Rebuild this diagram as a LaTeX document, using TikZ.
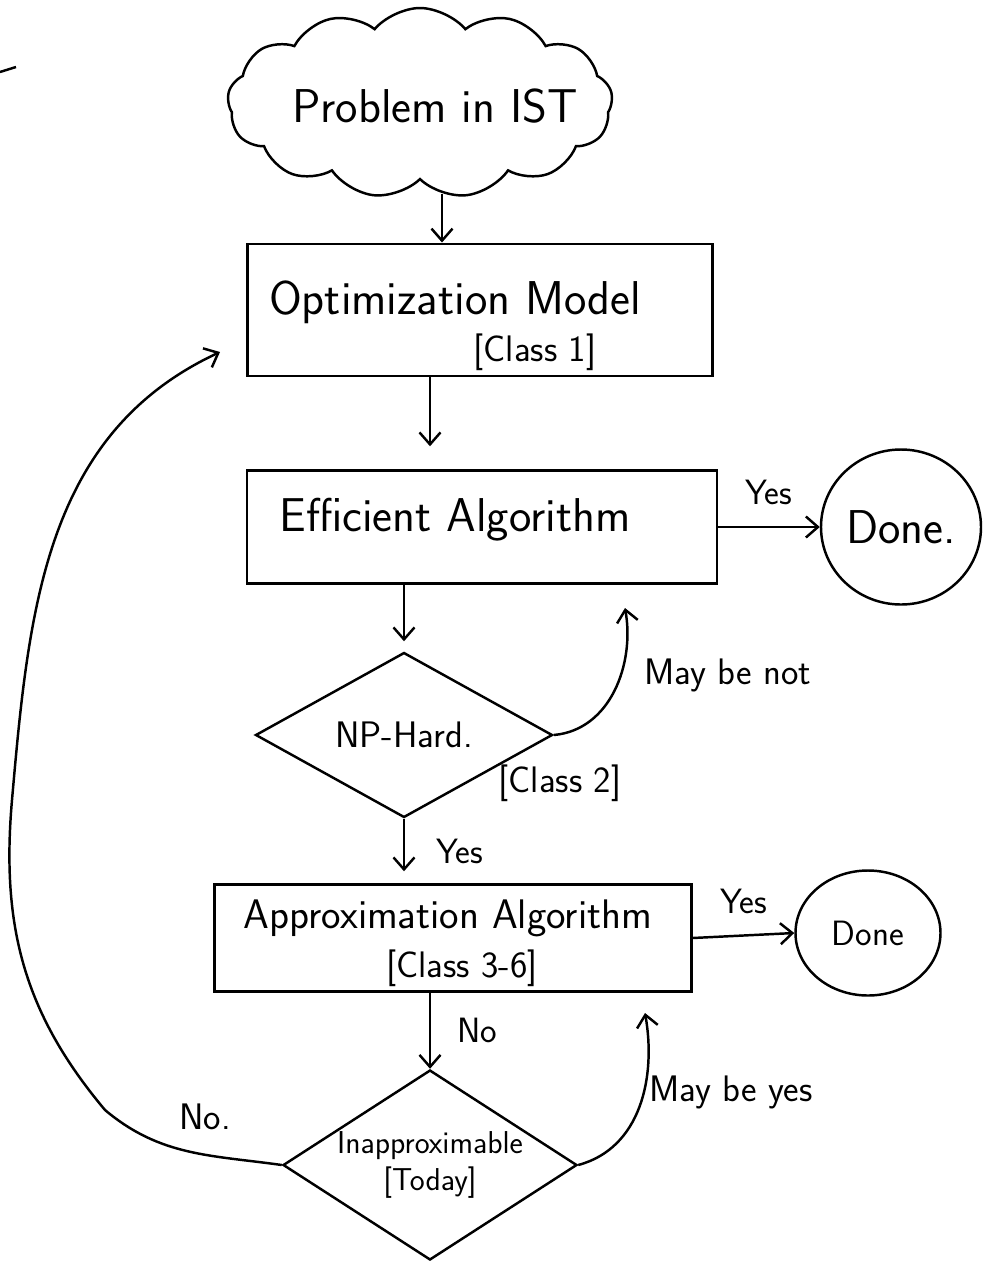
\documentclass[tikz,border=0pt]{standalone}
\usepackage{tikz}
\usetikzlibrary{arrows.meta,positioning,shapes.geometric,shapes.symbols,calc}

\begin{document}
\begin{tikzpicture}[
 x=0.2mm,y=-0.2mm,
 font=\sffamily,line width=1.4pt,
 big/.style={font=\sffamily\fontsize{27}{31}\selectfont},
 mid/.style={font=\sffamily\fontsize{21}{24}\selectfont},
 lbl/.style={font=\sffamily\fontsize{20}{23}\selectfont},
 box/.style={draw,line width=1.4pt,inner sep=0pt},
 dec/.style={draw,diamond,line width=1.4pt,inner sep=0pt},
 done/.style={draw,ellipse,line width=1.4pt,inner sep=0pt},
 arr/.style={-{Straight Barb[length=2.4mm,width=4.2mm]},line width=1.4pt}
]
\useasboundingbox (0,0) rectangle (985,1277);
\draw (0,72) -- (16,67);

\node[draw,cloud,cloud puffs=13,cloud puff arc=100,cloud ignores aspect,minimum width=77mm,minimum height=38mm,inner sep=0pt] (prob) at (420,103) {};
\node[big] (probT) at (435,106) {Problem in IST};

\node[box,minimum width=93mm,minimum height=26.5mm] (opt) at (480,310) {};
\node[big] (optT) at (455,302) {Optimization Model};
\node[mid] (optC) at (535,352) {[Class 1]};

\node[box,minimum width=94mm,minimum height=22.6mm] (eff) at (482,527) {};
\node[big] (effT) at (455,520) {Efficient Algorithm};
\node[done,minimum width=32mm,minimum height=31mm,big] (done1) at (901,527) {Done.};

\node[dec,minimum width=59.4mm,minimum height=33mm,mid] (np) at (404,735) {NP-Hard.};
\node[mid] (npC) at (560,783) {[Class 2]};

\node[box,minimum width=95.4mm,minimum height=21.4mm] (apx) at (453,938) {};
\node[font=\sffamily\fontsize{23.5}{27}\selectfont] (apxT) at (448,918) {Approximation Algorithm};
\node[mid] (apxC) at (462,968) {[Class 3-6]};
\node[done,minimum width=29mm,minimum height=25mm,lbl] (done2) at (868,933) {Done};

\node[dec,minimum width=58.8mm,minimum height=38mm,aspect=1.55,align=center,font=\sffamily\fontsize{18}{21}\selectfont] (inap) at (430,1165) {Inapproximable\\{[Today]}};

\coordinate (effback) at (625,608);
\coordinate (apxback) at (645,1013);
\coordinate (optin) at (220,352);

\draw[arr] ([xshift=4.4mm,yshift=-2.6mm]prob.south) -- ([xshift=4.4mm]prob.south |- opt.north);
\draw[arr,shorten >=4.6mm] ([xshift=-10mm]opt.south) -- ([xshift=-10mm]opt.south |- eff.north);
\draw[arr] (eff.east) -- (done1.west) node[midway,above=3mm,lbl] {Yes};
\draw[arr,shorten >=2mm] (np.north |- eff.south) -- (np.north);
\draw[arr] (np.east) to[out=5,in=-80] (effback);
\node[mid] (mbn) at (728,675) {May be not};
\draw[arr,shorten >=2.4mm] (np.south) -- (np.south |- apx.north) node[midway,right=5mm,lbl] {Yes};
\draw[arr] (apx.east) -- (done2.west) node[midway,above=3mm,lbl] {Yes};
\draw[arr] (inap.north |- apx.south) -- (inap.north) node[midway,right=4mm,lbl] {No};
\draw[arr] (inap.east) to[out=15,in=-80] (apxback);
\node[mid] (mby) at (731,1092) {May be yes};
\draw[arr] (inap.west) to[out=172,in=-40] (105,1110) to[out=130,in=-95] (12,800)
  to[out=85,in=205] (optin);
\node[mid] (no) at (205,1117) {No.};
\end{tikzpicture}
\end{document}
